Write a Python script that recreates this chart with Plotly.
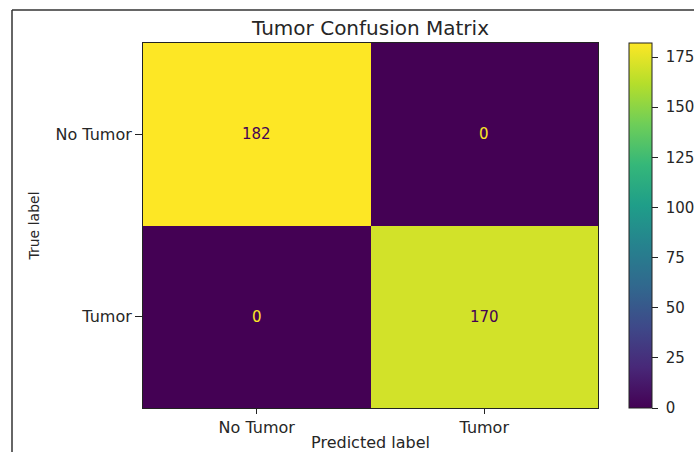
import plotly.graph_objects as go

classes = ["No Tumor", "Tumor"]
counts = [[182, 0],
          [0, 170]]
cbar_ticks = [0, 25, 50, 75, 100, 125, 150, 175]

FONT = "DejaVu Sans"
TXT = "#262626"
vmin, vmax = 0, 182
thresh = (vmin + vmax) / 2

fig = go.Figure()
fig.add_trace(go.Heatmap(
    z=counts, x=classes, y=classes,
    colorscale="Viridis", zmin=vmin, zmax=vmax,
    xgap=0, ygap=0,
    colorbar=dict(
        x=(629 - 143) / 455, xanchor="left", xref="paper",
        y=0, yanchor="bottom", len=1, lenmode="fraction",
        thickness=23, thicknessmode="pixels",
        outlinewidth=1, outlinecolor="#222",
        tickvals=cbar_ticks,
        ticktext=["\u00a0" + str(t) for t in cbar_ticks],
        ticks="outside", ticklen=6, tickwidth=1,
        tickcolor="#222", tickfont=dict(family=FONT, size=15, color=TXT),
        xpad=0, ypad=0,
    ),
    hoverinfo="skip",
))

annotations = []
for i, row in enumerate(counts):
    for j, v in enumerate(row):
        annotations.append(dict(
            x=classes[j], y=classes[i], text=str(v), showarrow=False,
            font=dict(family=FONT, size=15,
                      color="#440154" if v > thresh else "#fde725"),
        ))

# figure frame lines (top and left)
pw, ph, ml, mb = 455, 365, 143, 44
def px_to_paper_x(px):
    return (px - ml) / pw
def px_to_paper_y(py):
    return (452 - mb - py) / ph

shapes = [
    dict(type="line", xref="paper", yref="paper",
         x0=px_to_paper_x(12), x1=px_to_paper_x(700),
         y0=px_to_paper_y(10), y1=px_to_paper_y(10),
         line=dict(color="#333", width=1.5)),
    dict(type="line", xref="paper", yref="paper",
         x0=px_to_paper_x(12), x1=px_to_paper_x(12),
         y0=px_to_paper_y(10), y1=px_to_paper_y(460),
         line=dict(color="#333", width=1.5)),
]

fig.update_layout(
    width=694, height=452,
    margin=dict(l=143, r=96, t=43, b=44, autoexpand=False),
    paper_bgcolor="white", plot_bgcolor="white",
    font=dict(family=FONT, size=16, color=TXT),
    title=dict(text="Tumor Confusion Matrix", x=0.5, xref="paper",
               xanchor="center", y=1 - 28 / 452, yref="container",
               yanchor="middle", font=dict(family=FONT, size=20, color=TXT)),
    xaxis=dict(title=dict(text="Predicted label", standoff=2,
                          font=dict(family=FONT, size=16, color=TXT)),
               ticks="outside", ticklen=5, tickwidth=1, tickcolor="#222",
               showline=True, linecolor="#222", linewidth=1, mirror=True,
               showgrid=False, zeroline=False,
               tickfont=dict(family=FONT, size=16, color=TXT)),
    yaxis=dict(title=dict(text="True label", standoff=12,
                          font=dict(family=FONT, size=14, color=TXT)),
               autorange="reversed",
               ticks="outside", ticklen=7, tickwidth=1, tickcolor="#222",
               showline=True, linecolor="#222", linewidth=1, mirror=True,
               showgrid=False, zeroline=False,
               tickfont=dict(family=FONT, size=16, color=TXT)),
    annotations=annotations,
    shapes=shapes,
)

fig.write_html("out.html",
               config={"displayModeBar": False},
               post_script="document.body.style.margin='0';document.body.style.overflow='hidden';")
